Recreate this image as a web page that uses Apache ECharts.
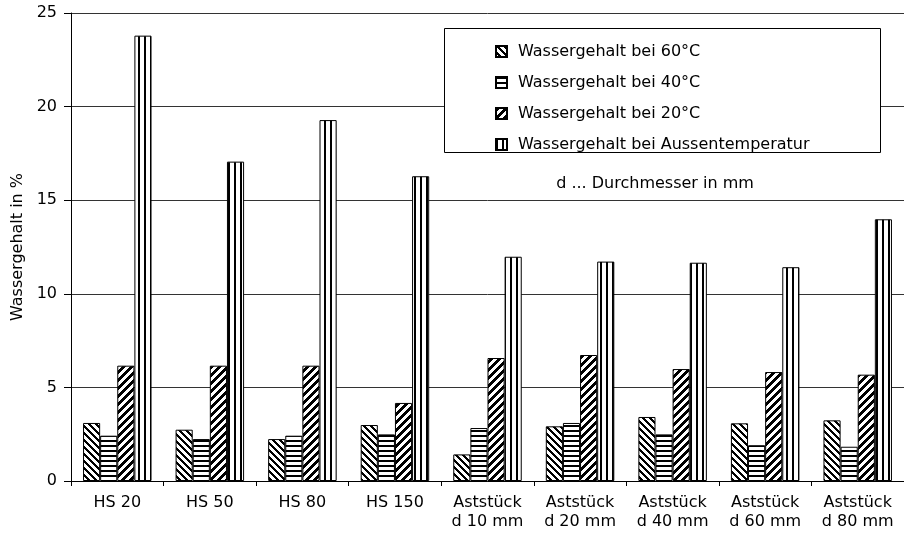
<!DOCTYPE html>
<html>
<head>
<meta charset="utf-8">
<script src="https://cdn.jsdelivr.net/npm/echarts@6/dist/echarts.min.js"></script>
<style>
html,body{margin:0;padding:0;background:#fff;}
#chart{width:904px;height:541px;}
</style>
</head>
<body>
<div id="chart"></div>
<script>
const categories = ['HS 20', 'HS 50', 'HS 80', 'HS 150',
  'Aststück\nd 10 mm', 'Aststück\nd 20 mm', 'Aststück\nd 40 mm', 'Aststück\nd 60 mm', 'Aststück\nd 80 mm'];
const seriesNames = ['Wassergehalt bei 60°C', 'Wassergehalt bei 40°C', 'Wassergehalt bei 20°C', 'Wassergehalt bei Aussentemperatur'];
const w60 = [3.10, 2.74, 2.24, 2.99, 1.42, 2.92, 3.42, 3.08, 3.24];
const w40 = [2.42, 2.24, 2.42, 2.49, 2.83, 3.10, 2.49, 1.91, 1.83];
const w20 = [6.16, 6.16, 6.16, 4.17, 6.57, 6.73, 5.98, 5.82, 5.68];
const wAussen = [23.79, 17.06, 19.28, 16.28, 11.98, 11.72, 11.66, 11.42, 13.98];
const yMin = 0, yMax = 25, yStep = 5;
const yAxisTitle = 'Wassergehalt in %';
const noteText = 'd ... Durchmesser in mm';

const FONT = 'DejaVu Sans';

function makePattern(size, fn) {
  const c = document.createElement('canvas');
  c.width = size; c.height = size;
  const ctx = c.getContext('2d');
  const img = ctx.createImageData(size, size);
  for (let y = 0; y < size; y++) {
    for (let x = 0; x < size; x++) {
      const i = (y * size + x) * 4;
      const v = fn(x, y) ? 0 : 255;
      img.data[i] = v; img.data[i + 1] = v; img.data[i + 2] = v; img.data[i + 3] = 255;
    }
  }
  ctx.putImageData(img, 0, 0);
  return { image: c, repeat: 'repeat' };
}

const patterns = [
  makePattern(7, (x, y) => ((x - y) % 7 + 7) % 7 < 3),
  makePattern(5, (x, y) => y % 5 < 2),
  makePattern(8, (x, y) => (x + y) % 8 < 4),
  makePattern(6, (x, y) => x % 6 < 2)
];
const seriesData = [w60, w40, w20, wAussen];

const chart = echarts.init(document.getElementById('chart'), null, { renderer: 'canvas' });

const option = {
  animation: false,
  backgroundColor: '#fff',
  textStyle: { fontFamily: FONT },
  grid: { left: 71, top: 13, width: 840, height: 468, containLabel: false },
  legend: {
    orient: 'vertical',
    left: 490,
    top: 38,
    itemWidth: 11,
    itemHeight: 11,
    itemGap: 14,
    icon: 'rect',
    selectedMode: false,
    z: 5,
    textStyle: { fontFamily: FONT, fontSize: 16, color: '#000', lineHeight: 17, padding: [0, 0, 0, 6] },
    data: seriesNames
  },
  graphic: [
    {
      type: 'rect', z: 3, silent: true,
      shape: { x: 444.5, y: 28.5, width: 436, height: 124 },
      style: { fill: '#fff', stroke: '#000', lineWidth: 1 }
    },
    {
      type: 'text', z: 3, silent: true,
      x: 655, y: 184,
      style: { text: noteText, fontFamily: FONT, fontSize: 16, fill: '#000', align: 'center', verticalAlign: 'middle' }
    }
  ],
  xAxis: {
    type: 'category',
    data: categories,
    boundaryGap: true,
    axisLine: { show: true, lineStyle: { color: '#000', width: 1 } },
    axisTick: { show: true, length: 5, lineStyle: { color: '#000' } },
    axisLabel: { color: '#000', fontFamily: FONT, fontSize: 16, lineHeight: 19, margin: 12, interval: 0 },
    splitLine: { show: false }
  },
  yAxis: {
    type: 'value',
    min: yMin, max: yMax, interval: yStep,
    name: yAxisTitle,
    nameLocation: 'middle',
    nameRotate: 90,
    nameGap: 45,
    nameTextStyle: { color: '#000', fontFamily: FONT, fontSize: 16 },
    axisLine: { show: true, lineStyle: { color: '#000', width: 1 } },
    axisTick: { show: true, length: 7, lineStyle: { color: '#000' } },
    axisLabel: { color: '#000', fontFamily: FONT, fontSize: 16, margin: 14 },
    splitLine: { show: true, lineStyle: { color: '#333', width: 1 } }
  },
  series: seriesNames.map((name, i) => ({
    name: name,
    type: 'bar',
    data: seriesData[i],
    barGap: '0%',
    barCategoryGap: '26%',
    itemStyle: { color: patterns[i], borderColor: '#000', borderWidth: 1 },
    emphasis: { disabled: true }
  }))
};

chart.setOption(option);
</script>
</body>
</html>
